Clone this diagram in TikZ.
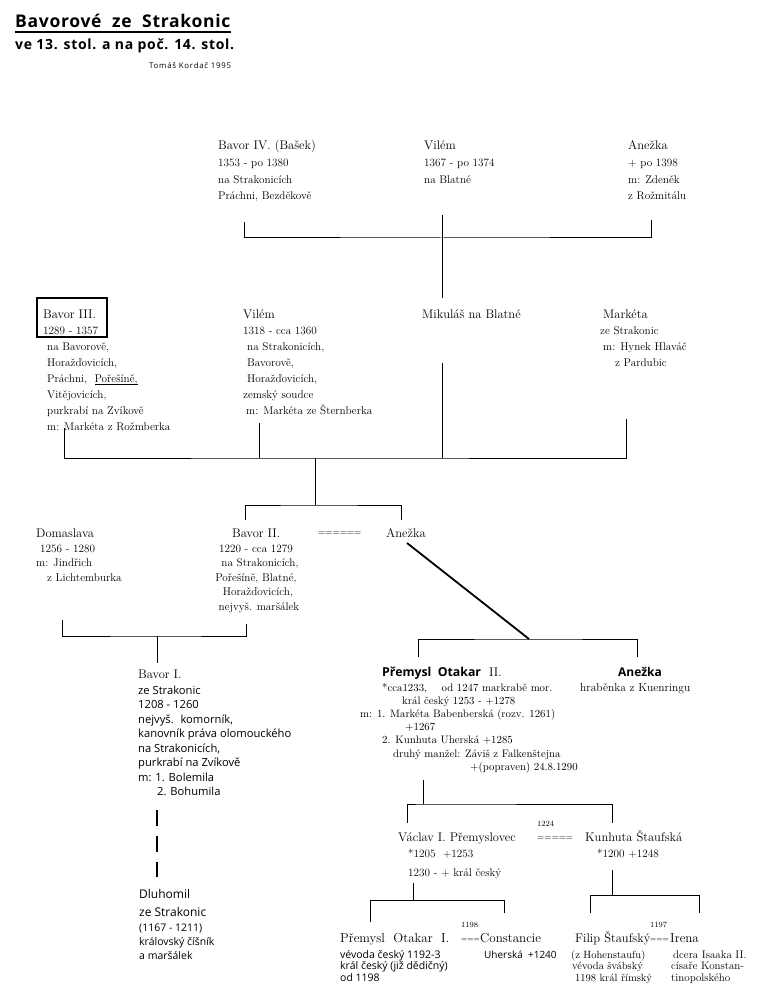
\documentclass[tikz,border=0pt]{standalone}
\usepackage{fontspec}
\setsansfont{Open Sans}
\newcommand\rows[1]{\begin{tabular}[t]{@{}l@{}}#1\end{tabular}}
\newcommand\crows[1]{\begin{tabular}[t]{@{}c@{}}#1\end{tabular}}
\newcommand\ulword[1]{\setbox0\hbox{#1}\rlap{\rule[-3pt]{\wd0}{1.2pt}}\box0}
\tikzset{
  person/.style={anchor=base west, inner sep=0pt, font=\fontsize{12.5}{15}\selectfont},
  info/.style={anchor=base west, inner sep=0pt, font=\fontsize{11.2}{#1}\selectfont},
  info/.default=16,
  sinfo/.style={anchor=base west, inner sep=0pt, font=\sffamily\fontsize{11.2}{#1}\selectfont},
  sinfo/.default=14.5,
  wed/.style={anchor=base west, inner sep=0pt, font=\fontsize{9}{9}\selectfont},
  year/.style={anchor=base west, inner sep=0pt, font=\fontsize{8}{8}\selectfont},
  link/.style={line width=1pt},
}

\begin{document}
\begin{tikzpicture}[x=1pt,y=-1pt]
\useasboundingbox[fill=white] (0,0) rectangle (768,984);

% title
\node[anchor=base west, inner sep=0pt,
  font=\sffamily\bfseries\fontsize{17.5}{20}\selectfont\addfontfeature{LetterSpace=4}]
  (title) at (15,28) {Bavorové~ ze~ Strakonic};
\draw[line width=1.4pt] ([yshift=-4pt]title.base west) -- ([yshift=-4pt]title.base east);
\node[anchor=base west, inner sep=0pt,
  font=\sffamily\bfseries\fontsize{14}{16}\selectfont\addfontfeature{LetterSpace=5}]
  (subtitle) at (15,50) {ve 13. stol. a na poč. 14. stol.};
\node[anchor=base west, inner sep=0pt,
  font=\sffamily\fontsize{7.8}{8}\selectfont\addfontfeature{LetterSpace=10}]
  (author) at (149,69) {Tomáš Kordač 1995};

% first row
\node[person] (bavorIV) at (218,150) {Bavor IV. (Bašek)};
\node[info=16.5] (bavorIVi) at (218,167) {\rows{1353 - po 1380\\na Strakonicích\\Práchni, Bezděkově}};
\node[person] (vilemA) at (424,150) {Vilém};
\node[info=16.5] (vilemAi) at (424,167) {\rows{1367 - po 1374\\na Blatné}};
\node[person] (anezkaA) at (628,150) {Anežka};
\node[info=16.5] (anezkaAi) at (628,167) {\rows{+ po 1398\\m: Zdeněk\\z Rožmitálu}};

% second row
\node[person] (bavorIII) at (43,318) {Bavor III.};
\node[info] (bavorIIIy) at (43,334) {1289 - 1357};
\draw[line width=1.4pt] (37,298) rectangle (107,337);
\node[info] (bavorIIIi) at (47,350) {\rows{na Bavorově,\\Horažďovicích,\\Práchni,~ \ulword{Pořešíně,}\\Vitějovicích,\\purkrabí na Zvíkově\\m: Markéta z Rožmberka}};
\node[person] (vilemB) at (243,318) {Vilém};
\node[info] (vilemBi) at (243,334) {\rows{1318 - cca 1360\\\hspace*{4pt}na Strakonicích,\\\hspace*{4pt}Bavorově,\\\hspace*{4pt}Horažďovicích,\\zemský soudce\\\hspace*{3pt}m: Markéta ze Šternberka}};
\node[person] (mikulas) at (422,318) {Mikuláš na Blatné};
\node[person] (marketa) at (603,318) {Markéta};
\node[info] (marketai) at (600,334) {\rows{ze Strakonic\\\hspace*{3pt}m: Hynek Hlaváč\\\hspace*{15pt}z Pardubic}};

% third row
\node[person] (domaslava) at (36,537) {Domaslava};
\node[info=14.7] (domaslavai) at (36,552) {\rows{\hspace*{4pt}1256 - 1280\\m: Jindřich\\\hspace*{11pt}z Lichtemburka}};
\node[person] (bavorII) at (232,537) {Bavor II.};
\node[info=14.5, anchor=base] (bavorIIi) at (256,552) {\crows{1220 - cca 1279\\\hspace*{8pt}na Strakonicích,\\Pořešíně, Blatné,\\\hspace*{4pt}Horažďovicích,\\\hspace*{6pt}nejvyš. maršálek}};
\node[wed] (wedII) at (318,535) {======};
\node[person] (anezkaB) at (386,537) {Anežka};

% fourth row
\node[person] (bavorI) at (138,678) {Bavor I.};
\node[sinfo] (bavorIi) at (138,694) {\rows{ze Strakonic\\1208 - 1260\\nejvyš.~ komorník,\\kanovník práva olomouckého\\na Strakonicích,\\purkrabí na Zvíkově\\m: 1. Bolemila\\\hspace*{19pt}2. Bohumila}};
\node[person] (premyslII) at (382,676) {{\sffamily\bfseries\fontsize{12.3}{14}\selectfont Přemysl~~Otakar}~ II.};
\node[info=13.2, font=\fontsize{10.8}{13.2}\selectfont] (premyslIIi) at (360,691) {\rows{\hspace*{22pt}*cca1233,~~~ od 1247 markrabě mor.\\\hspace*{42pt}král český 1253 - +1278\\m: 1. Markéta Babenberská (rozv. 1261)\\\hspace*{45pt}+1267\\\hspace*{22pt}2. Kunhuta Uherská +1285\\\hspace*{33pt}druhý manžel: Záviš z Falkenštejna\\\hspace*{110pt}+(popraven) 24.8.1290}};
\node[person, font=\sffamily\bfseries\fontsize{12}{14}\selectfont] (anezkaC) at (618,676) {Anežka};
\node[info, font=\fontsize{11.5}{13}\selectfont] (anezkaCi) at (580,691) {hraběnka z Kuenringu};

% fifth row
\node[person] (vaclav) at (398,841) {Václav I. Přemyslovec};
\node[year] (wedVy) at (537,826) {1224};
\node[wed] (wedV) at (537,840) {=====};
\node[person] (kunhuta) at (585,841) {Kunhuta Štaufská};
\node[info=19] (vaclavi) at (408,857) {\rows{*1205~ +1253\\1230 - + král český}};
\node[info] (kunhutai) at (597,857) {*1200 +1248};

% sixth row
\node[person, font=\fontsize{13}{15}\selectfont] (premyslI) at (340,942) {Přemysl~ Otakar~ I.};
\node[year] (wedPy) at (461,927) {1198};
\node[wed, font=\fontsize{7.5}{8}\selectfont] (wedP) at (461,941) {===};
\node[person, font=\fontsize{13}{15}\selectfont] (constancie) at (480,942) {Constancie};
\node[sinfo=11.5, font=\sffamily\fontsize{10.5}{11.5}\selectfont] (premyslIi) at (340,958) {\rows{vévoda český 1192-3\\král český (již dědičný)\\od 1198}};
\node[sinfo=11.5, font=\sffamily\fontsize{10}{11.5}\selectfont] (constanciei) at (484,958) {Uherská~ +1240};
\node[person] (filip) at (575,942) {Filip Štaufský};
\node[year] (wedFy) at (650,927) {1197};
\node[wed, font=\fontsize{7.5}{8}\selectfont] (wedF) at (650,941) {===};
\node[person, font=\fontsize{13}{15}\selectfont] (irena) at (670,942) {Irena};
\node[info=11.5, font=\fontsize{10.5}{11.5}\selectfont] (filipi) at (571,958) {\rows{(z Hohenstaufu)\\\hspace*{1pt}vévoda švábský\\\hspace*{4pt}1198 král římský}};
\node[info=11.5, font=\fontsize{11}{11.5}\selectfont] (irenai) at (671,958) {\rows{\hspace*{2pt}dcera Isaaka II.\\císaře Konstan-\\tinopolského}};

% oldest
\node[person, font=\sffamily\fontsize{12}{15}\selectfont] (dluhomil) at (139,898) {Dluhomil};
\node[person, font=\sffamily\fontsize{12}{15}\selectfont] (dluhomilz) at (139,916) {ze Strakonic};
\node[sinfo=14, font=\sffamily\fontsize{10.5}{14}\selectfont] (dluhomili) at (139,931) {\rows{(1167 - 1211)\\královský číšník\\a maršálek}};

% connectors
\coordinate (bIVup) at (244,222);
\coordinate (aAup) at (651,220);
\coordinate (j1) at (442,238);
\coordinate (j1top) at (442,215);
\coordinate (mikup) at (442,298);
\draw[link] (bIVup) |- (j1) -| (aAup);
\draw[link] (j1top) -- (mikup);

\coordinate (bIIIdn) at (64,428);
\coordinate (vBdn) at (259,423);
\coordinate (mikdn) at (442,363);
\coordinate (mkdn) at (626,419);
\coordinate (j2) at (315,458);
\coordinate (j2b) at (315,505);
\coordinate (bIIup) at (245,520);
\coordinate (aBup) at (401,520);
\draw[link] (bIIIdn) |- (j2) -| (mkdn);
\draw[link] (vBdn) -- (vBdn |- j2);
\draw[link] (mikdn) -- (mikdn |- j2);
\draw[link] (j2) -- (j2b);
\draw[link] (bIIup) |- (j2b) -| (aBup);

\coordinate (domdn) at (62,620);
\coordinate (bIIdn) at (246,624);
\coordinate (j3) at (157,636);
\coordinate (bIup) at (157,663);
\draw[link] (domdn) |- (j3) -| (bIIdn);
\draw[link] (j3) -- (bIup);

\coordinate (aBdn) at (407,543);
\coordinate (j4) at (529,639);
\coordinate (pIIup) at (418,657);
\coordinate (aCup) at (637,657);
\draw[link] (pIIup) |- (j4) -| (aCup);
\draw[line width=1.8pt] (aBdn) -- (j4);

\coordinate (pIIdn) at (423,780);
\coordinate (j5) at (423,804);
\coordinate (vup) at (407,823);
\coordinate (kup) at (612,823);
\draw[link] (pIIdn) -- (j5);
\draw[link] (vup) |- (j5) -| (kup);

\coordinate (vdn) at (413,883);
\coordinate (j6) at (413,900);
\coordinate (pIup) at (370,922);
\coordinate (cup) at (504,913);
\draw[link] (vdn) -- (j6);
\draw[link] (pIup) |- (j6) -| (cup);

\coordinate (kdn) at (612,870);
\coordinate (j7) at (612,895);
\coordinate (fup) at (590,913);
\coordinate (iup) at (699,913);
\draw[link] (kdn) -- (j7);
\draw[link] (fup) |- (j7) -| (iup);

\coordinate (bIdn) at (157,810);
\coordinate (dlup) at (157,877);
\draw[line width=1.8pt, dash pattern=on 16pt off 10pt] (bIdn) -- (dlup);
\end{tikzpicture}
\end{document}
